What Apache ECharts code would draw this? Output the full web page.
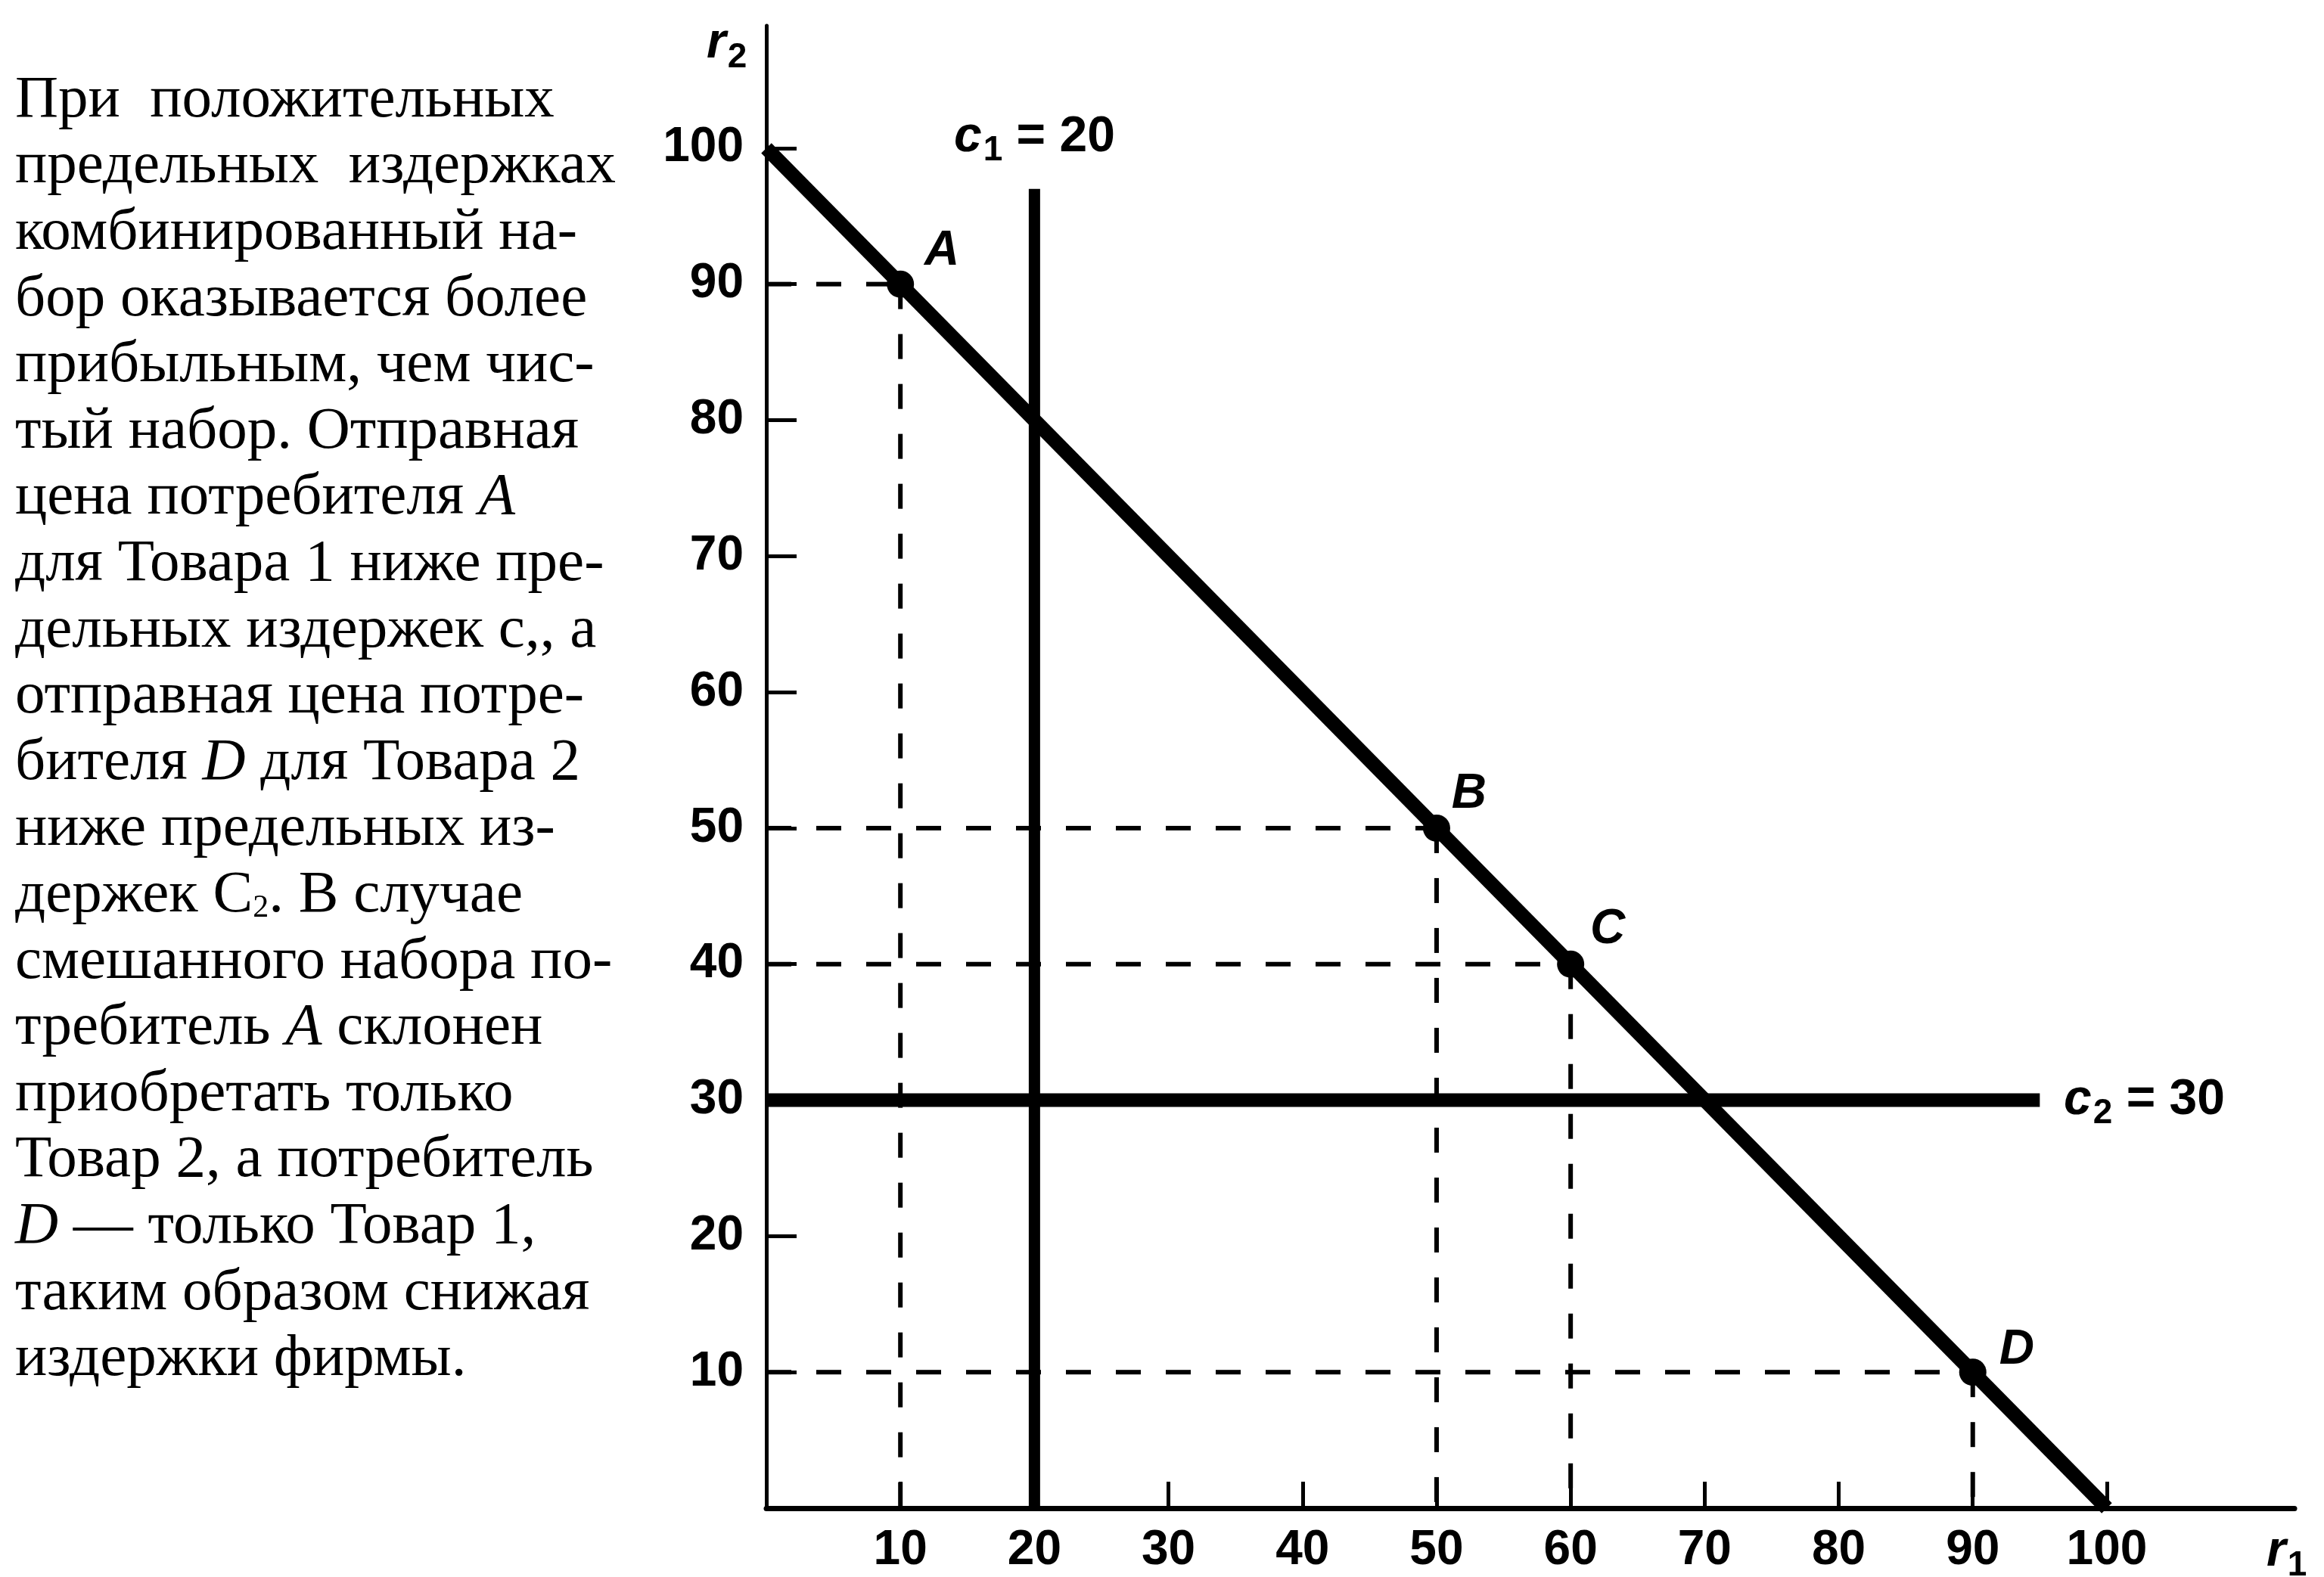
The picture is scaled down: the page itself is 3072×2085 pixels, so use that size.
<!DOCTYPE html>
<html>
<head>
<meta charset="utf-8">
<script src="https://cdn.jsdelivr.net/npm/echarts@6/dist/echarts.min.js"></script>
<style>
html, body { margin: 0; padding: 0; background: #fff; }
#main { width: 3072px; height: 2085px; }
</style>
</head>
<body>
<div id="main"></div>
<script>
// оси
const xTicks = [10, 20, 30, 40, 50, 60, 70, 80, 90, 100];
const yTicks = [10, 20, 30, 40, 50, 60, 70, 80, 90, 100];

// бюджетная линия r1 + r2 = 100
const budgetR1 = [0, 100];
const budgetR2 = [100, 0];

// предельные издержки
const c1Value = 20;
const c1Top = 97;
const c2Value = 30;
const c2End = 95;

// потребители
const pointNames = ['A', 'B', 'C', 'D'];
const pointR1 = [10, 50, 60, 90];
const pointR2 = [90, 50, 40, 10];

// текст слева
const noteLines = [
    'При  положительных',
    'предельных  издержках',
    'комбинированный на-',
    'бор оказывается более',
    'прибыльным, чем чис-',
    'тый набор. Отправная',
    'цена потребителя {i|A}',
    'для Товара 1 ниже пре-',
    'дельных издержек с,, а',
    'отправная цена потре-',
    'бителя {i|D} для Товара 2',
    'ниже предельных из-',
    'держек С{sub|2}. В случае',
    'смешанного набора по-',
    'требитель {i|A} склонен',
    'приобретать только',
    'Товар 2, а потребитель',
    '{i|D} — только Товар 1,',
    'таким образом снижая',
    'издержки фирмы.'
];

// смещения подписей точек (px)
const pointLabelOffset = [[55, -43], [43, -45], [49, -45], [58, -29]];

const SANS = 'Liberation Sans';
const SERIF = 'Liberation Serif';

const chart = echarts.init(document.getElementById('main'), null, { renderer: 'canvas' });

// пунктирные направляющие: от оси r2 к точке и от точки вниз к оси r1
let guides = [];
pointR1.forEach((x, i) => {
    const y = pointR2[i];
    [[[0, y], [x, y]], [[x, y], [x, 0]]].forEach(seg => {
        guides.push({
            type: 'line',
            data: seg,
            symbol: 'none',
            silent: true,
            z: 1,
            lineStyle: { color: '#000', width: 6, type: [33, 33] }
        });
    });
});

const noteText = noteLines.map((line, i) => ({
    type: 'text',
    x: 20,
    y: 133 + i * 87.6,
    style: {
        text: line,
        fill: '#000',
        fontFamily: SERIF,
        fontSize: 79,
        verticalAlign: 'middle',
        align: 'left',
        rich: {
            i: { fontFamily: SERIF, fontSize: 79, fontStyle: 'italic', fill: '#000' },
            sub: { fontFamily: SERIF, fontSize: 42, fill: '#000', padding: [34, 0, 0, 0] }
        }
    }
}));

const mathRich = {
    v: { fontFamily: SANS, fontSize: 66, fontWeight: 'bold', fontStyle: 'italic', color: '#000' },
    s: { fontFamily: SANS, fontSize: 46, fontWeight: 'bold', color: '#000', padding: [36, 0, 0, 2] },
    t: { fontFamily: SANS, fontSize: 66, fontWeight: 'bold', color: '#000' }
};

let option = {
    backgroundColor: '#fff',
    animation: false,
    grid: {
        left: 1013,
        right: 39,
        top: 34,
        bottom: 91,
        outerBoundsMode: 'none'
    },
    xAxis: {
        type: 'value',
        min: 0,
        max: 114,
        interval: 10,
        splitLine: { show: false },
        axisLine: { show: true, lineStyle: { color: '#000', width: 7 } },
        axisTick: {
            show: true, inside: true, length: 35, customValues: xTicks,
            lineStyle: { color: '#000', width: 5 }
        },
        axisLabel: {
            customValues: xTicks, margin: 24, color: '#000',
            fontFamily: SANS, fontSize: 64, fontWeight: 'bold'
        }
    },
    yAxis: {
        type: 'value',
        min: 0,
        max: 109,
        interval: 10,
        splitLine: { show: false },
        axisLine: { show: true, lineStyle: { color: '#000', width: 5 } },
        axisTick: {
            show: true, inside: true, length: 40, customValues: yTicks,
            lineStyle: { color: '#000', width: 5 }
        },
        axisLabel: {
            customValues: yTicks, margin: 30, color: '#000',
            fontFamily: SANS, fontSize: 64, fontWeight: 'bold'
        }
    },
    graphic: noteText.concat([
        {
            type: 'text', x: 934, y: 58,
            style: { text: '{v|r}{s|2}', verticalAlign: 'middle', rich: mathRich, fill: '#000' }
        },
        {
            type: 'text', x: 2996, y: 2052,
            style: { text: '{v|r}{s|1}', verticalAlign: 'middle', rich: mathRich, fill: '#000' }
        }
    ]),
    series: guides.concat([
        {
            type: 'line',
            name: 'budget',
            data: budgetR1.map((x, i) => [x, budgetR2[i]]),
            symbol: 'none',
            z: 3,
            lineStyle: { color: '#000', width: 19, cap: 'butt' }
        },
        {
            type: 'line',
            name: 'c1',
            data: [[c1Value, 0], [c1Value, c1Top]],
            symbol: 'none',
            z: 3,
            lineStyle: { color: '#000', width: 15, cap: 'butt' }
        },
        {
            type: 'line',
            name: 'c2',
            data: [[0, c2Value], [c2End, c2Value]],
            symbol: 'none',
            z: 3,
            lineStyle: { color: '#000', width: 18, cap: 'butt' }
        },
        {
            type: 'scatter',
            name: 'consumers',
            symbol: 'circle',
            symbolSize: 36,
            z: 5,
            itemStyle: { color: '#000', opacity: 1, borderWidth: 0 },
            label: {
                show: true,
                position: 'inside',
                formatter: '{b}',
                color: '#000',
                opacity: 1,
                textBorderWidth: 0,
                fontFamily: SANS,
                fontSize: 64,
                fontWeight: 'bold',
                fontStyle: 'italic'
            },
            data: pointNames.map((n, i) => ({
                name: n,
                value: [pointR1[i], pointR2[i]],
                label: { offset: pointLabelOffset[i] }
            }))
        },
        {
            type: 'scatter',
            name: 'notes',
            symbolSize: 0,
            clip: false,
            silent: true,
            z: 5,
            itemStyle: { opacity: 1 },
            label: { show: true, position: 'inside', textBorderWidth: 0, opacity: 1, rich: mathRich },
            data: [
                { value: [c1Value, 100.8], label: { formatter: '{v|c}{s|1}{t| = 20}' } },
                { value: [102.8, c2Value], label: { formatter: '{v|c}{s|2}{t| = 30}' } }
            ]
        }
    ])
};

chart.setOption(option);
</script>
</body>
</html>
